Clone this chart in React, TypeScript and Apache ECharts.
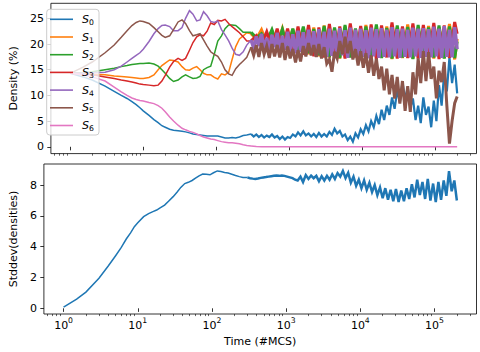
import React, { useEffect, useRef } from 'react';
import * as echarts from 'echarts';

// ---------- data ----------
const T_EARLY = [1, 1.5, 2, 3, 4, 5, 6, 7, 8, 9, 10, 12, 14, 16, 18, 20, 23, 26, 30, 34, 38, 43, 48, 54, 60, 67, 75, 84, 94, 105, 118, 132, 148, 165, 185, 208, 234, 262];

const T_LATE = [300, 326, 354, 384, 417, 453, 492, 534, 580, 630, 684, 742, 806, 875, 950,
  1030, 1120, 1220, 1320, 1430, 1560, 1690, 1840, 2000, 2170, 2350, 2550, 2770, 3010, 3270, 3550, 3850, 4180, 4540, 4930, 5360, 5820, 6320, 6860, 7450, 8090, 8780, 9530,
  10350, 11240, 12200, 13250, 14390, 15620, 16960, 18420, 20000, 21700, 23600, 25600, 27800, 30200, 32800, 35600, 38700, 42000, 45600, 49500, 53800, 58400, 63400, 68800, 74700, 81100, 88100, 95700,
  103900, 112800, 122500, 133000, 144400, 156800, 170300, 184900, 200000];

const T_LATE_SPARSE = [300, 354, 417, 492, 580, 684, 806, 950, 1120, 1320, 1560, 1840, 2170, 2550, 3010, 3550, 4180, 4930, 5820, 6860, 8090, 9530,
  11240, 13250, 15620, 18420, 21700, 25600, 30200, 35600, 42000, 49500, 58400, 68800, 81100, 95700, 112800, 133000, 156800, 184900, 200000];

const T_PINK_LATE = [300, 354, 417, 200000];

const S0_EARLY = [14.3, 13.6, 13.0, 11.8, 10.8, 10.0, 9.4, 8.8, 8.2, 7.6, 7.0, 6.1, 5.3, 4.7, 4.1, 3.8, 3.4, 3.2, 3.1, 3.0, 2.9, 2.7, 2.5, 2.4, 2.3, 2.2, 2.1, 2.1, 2.1, 2.1, 1.9, 1.7, 1.7, 1.8, 1.7, 1.9, 2.2, 2.3];
const S1_EARLY = [14.3, 14.2, 14.1, 14.0, 13.8, 13.7, 13.6, 13.5, 13.4, 13.3, 13.3, 13.5, 14.0, 15.0, 15.8, 16.3, 16.9, 16.8, 16.5, 15.6, 15.0, 14.9, 15.3, 15.6, 15.0, 14.3, 14.0, 14.0, 13.5, 13.2, 14.2, 14.0, 14.5, 17.0, 19.5, 21.0, 21.6, 22.2];
const S2_EARLY = [14.3, 14.4, 14.6, 15.0, 15.3, 15.6, 15.8, 16.0, 16.1, 16.2, 16.2, 16.3, 16.1, 15.7, 15.0, 14.3, 13.3, 12.7, 13.0, 13.6, 14.0, 13.6, 13.3, 13.4, 13.7, 15.0, 15.4, 15.7, 18.0, 20.6, 21.6, 23.0, 23.7, 23.7, 23.6, 23.0, 22.3, 22.3];
const S3_EARLY = [14.3, 14.2, 14.0, 13.6, 13.3, 13.0, 12.8, 12.6, 12.4, 12.2, 12.1, 12.0, 11.9, 12.0, 12.8, 13.9, 15.5, 16.6, 17.2, 16.8, 17.2, 18.8, 20.3, 21.4, 21.8, 21.6, 22.5, 24.1, 23.8, 24.6, 24.5, 24.8, 24.0, 23.4, 22.8, 22.2, 21.4, 20.6];
const S4_EARLY = [14.3, 14.3, 14.4, 14.5, 15.0, 15.7, 16.5, 17.2, 17.8, 18.3, 19.0, 20.5, 22.0, 23.0, 23.6, 23.7, 23.4, 22.6, 22.6, 23.2, 25.0, 26.5, 25.8, 24.5, 24.7, 26.3, 25.5, 24.4, 24.2, 24.5, 22.8, 21.8, 20.6, 19.2, 18.0, 17.8, 18.5, 19.8];
const S5_EARLY = [14.3, 15.5, 16.5, 18.3, 19.8, 21.3, 22.6, 23.6, 24.2, 24.5, 24.4, 24.0, 23.2, 22.4, 21.7, 21.3, 21.6, 22.8, 24.3, 24.7, 24.0, 22.6, 21.6, 21.8, 22.0, 20.8, 19.6, 18.5, 18.0, 17.6, 16.5, 15.0, 14.2, 13.9, 15.2, 16.0, 16.7, 17.4];
const S6_EARLY = [14.3, 14.0, 13.6, 12.8, 11.6, 10.7, 10.0, 9.5, 9.2, 9.0, 8.9, 8.6, 8.4, 8.0, 7.5, 6.8, 5.8, 5.0, 4.2, 3.6, 3.3, 3.0, 2.8, 2.5, 2.2, 1.9, 1.7, 1.5, 1.4, 1.2, 1.0, 0.9, 0.8, 0.8, 0.7, 0.6, 0.4, 0.25];

const S0_LATE = [2.5, 2.0, 2.4, 1.9, 2.3, 1.8, 2.2, 1.9, 2.4, 1.8,
  2.1, 1.5, 2.0, 1.4, 1.9, 1.7, 2.4, 2.0, 2.8, 2.2,
  3.0, 2.2, 2.6, 2.0, 2.5, 1.9, 2.7, 2.0, 2.5, 2.0,
  2.9, 2.3, 3.5, 2.6, 3.1, 2.0, 2.4, 1.3, 2.0, 1.0,
  2.6, 1.8, 3.4, 2.5, 4.2, 3.0, 5.0, 3.8, 6.0, 4.4,
  7.2, 5.2, 8.0, 6.2, 9.6, 7.4, 11.0, 8.6, 12.6, 9.2,
  11.6, 7.6, 9.4, 5.2, 8.0, 4.6, 9.6, 6.2, 7.8, 3.8,
  9.0, 5.0, 12.0, 8.0, 14.6, 10.8, 17.4, 12.4, 16.0, 10.4];
const S1_LATE = [22.0, 21.0, 22.8, 20.2, 22.5, 19.5, 23.0, 19.0, 22.9, 18.5,
  23.1, 18.0, 23.2, 17.6, 23.6, 17.4, 23.0, 17.2, 23.4, 17.5,
  22.8, 17.3, 23.7, 17.2, 22.9, 17.4, 23.4, 17.1, 23.1, 17.3,
  23.8, 17.2, 23.0, 17.5, 23.5, 17.2, 23.2, 17.3, 23.9, 17.0, 21.0];
const S2_LATE = [22.3, 21.2, 22.0, 20.5, 22.8, 19.8, 22.9, 19.2, 23.0, 18.8,
  23.4, 18.2, 22.9, 17.8, 23.5, 17.5, 23.2, 17.3, 23.7, 17.4,
  23.0, 17.2, 23.4, 17.5, 23.8, 17.3, 23.1, 17.2, 23.6, 17.4,
  23.3, 17.1, 23.7, 17.3, 23.2, 17.4, 23.6, 17.2, 23.4, 17.3, 20.5];
const S3_LATE = [20.6, 21.6, 19.8, 22.4, 19.2, 23.0, 18.8, 23.0, 18.2, 23.4,
  17.9, 23.7, 17.6, 23.2, 17.4, 23.9, 17.3, 23.4, 17.2, 24.0,
  17.4, 23.5, 17.3, 23.8, 17.1, 23.6, 17.4, 24.2, 17.2, 23.4,
  17.3, 24.0, 17.2, 23.7, 17.4, 24.1, 17.1, 23.6, 17.3, 24.3, 22.0];
const S4_LATE = [20.8, 19.2, 21.5, 19.6, 22.0, 19.0, 21.2, 18.8, 21.8, 19.4,
  22.2, 18.6, 21.6, 18.9, 22.4, 18.4, 21.9, 18.2, 22.6, 18.5,
  22.3, 17.9, 22.8, 18.1, 22.5, 17.6, 22.9, 17.8, 22.4, 17.5,
  23.0, 17.7, 22.6, 17.4, 23.1, 17.8, 22.7, 17.3, 23.2, 17.6,
  22.8, 17.4, 23.0, 17.5, 22.7, 17.2, 23.2, 17.6, 22.9, 17.3,
  23.1, 17.5, 22.8, 17.4, 23.3, 17.6, 22.9, 17.3, 23.0, 17.5,
  22.8, 17.4, 23.2, 17.6, 23.0, 17.3, 23.1, 17.5, 22.9, 17.4,
  23.4, 17.6, 23.0, 17.3, 23.5, 17.5, 22.8, 17.4, 23.3, 19.0];
const S5_LATE = [19.4, 17.8, 19.8, 17.5, 20.2, 18.0, 19.6, 17.3, 20.0, 17.6,
  19.8, 17.4, 20.2, 16.9, 19.5, 17.2, 19.0, 16.4, 18.8, 16.6,
  19.6, 17.6, 20.2, 17.8, 19.8, 17.5, 20.0, 17.2, 19.4, 16.2,
  17.0, 14.6, 18.5, 17.2, 20.6, 18.0, 21.4, 18.2, 20.6, 17.0,
  19.0, 15.8, 18.6, 15.4, 18.2, 14.4, 17.8, 13.8, 17.2, 13.2,
  15.6, 11.0, 15.2, 10.2, 14.0, 9.4, 13.6, 8.4, 12.8, 7.0,
  11.8, 6.8, 14.5, 10.2, 17.2, 12.4, 18.6, 12.8, 18.4, 13.2,
  15.6, 9.4, 14.8, 12.6, 16.5, 8.0, 0.6, 5.0, 8.5, 9.8];
const S6_LATE = [0.15, 0.05, 0, 0];

const STD_EARLY = [0.08, 0.6, 1.05, 1.95, 2.75, 3.4, 3.95, 4.5, 4.9, 5.3, 5.55, 5.95, 6.15, 6.28, 6.38, 6.52, 6.7, 6.95, 7.25, 7.55, 7.85, 8.1, 8.18, 8.3, 8.45, 8.6, 8.72, 8.7, 8.67, 8.8, 8.92, 8.88, 8.82, 8.78, 8.7, 8.62, 8.55, 8.5];
const STD_LATE = [8.50, 8.45, 8.42, 8.40, 8.43, 8.47, 8.50, 8.52, 8.55, 8.58,
  8.60, 8.62, 8.60, 8.63, 8.60, 8.55, 8.50, 8.45, 8.35, 8.30,
  8.55, 8.20, 8.65, 8.40, 8.62, 8.45, 8.60, 8.25, 8.58, 8.30,
  8.60, 8.35, 8.70, 8.40, 8.78, 8.55, 8.92, 8.45, 8.80, 8.15,
  8.55, 7.95, 8.35, 7.80, 8.30, 7.70, 8.15, 7.55, 8.00, 7.35,
  7.85, 7.15, 7.80, 7.05, 7.70, 6.95, 7.75, 6.90, 7.65, 6.95,
  7.80, 7.10, 8.05, 7.20, 8.35, 7.35, 8.20, 7.10, 8.40, 7.00,
  8.10, 6.90, 8.20, 7.05, 8.30, 7.30, 8.90, 7.60, 8.30, 7.00];

const NAMES = ['S0', 'S1', 'S2', 'S3', 'S4', 'S5', 'S6'];
const COLORS = ['#1f77b4', '#ff7f0e', '#2ca02c', '#d62728', '#9467bd', '#8c564b', '#e377c2'];
const X_MAJOR = [1, 10, 100, 1000, 10000, 100000];
const X_MINOR = [0.6, 0.7, 0.8, 0.9, 2, 3, 4, 5, 6, 7, 8, 9, 20, 30, 40, 50, 60, 70, 80, 90,
  200, 300, 400, 500, 600, 700, 800, 900, 2000, 3000, 4000, 5000, 6000, 7000, 8000, 9000,
  20000, 30000, 40000, 50000, 60000, 70000, 80000, 90000, 200000, 300000];
const Y_TOP_TICKS = [0, 5, 10, 15, 20, 25];
const Y_BOTTOM_TICKS = [0, 2, 4, 6, 8];

const SERIES_EARLY = [S0_EARLY, S1_EARLY, S2_EARLY, S3_EARLY, S4_EARLY, S5_EARLY, S6_EARLY];
const SERIES_LATE = [S0_LATE, S1_LATE, S2_LATE, S3_LATE, S4_LATE, S5_LATE, S6_LATE];
const SERIES_LATE_T = [T_LATE, T_LATE_SPARSE, T_LATE_SPARSE, T_LATE_SPARSE, T_LATE, T_LATE, T_PINK_LATE];
const LATE_WIDTH = [2.2, 3, 3, 3, 3.4, 3, 1.5];

// ---------- helpers ----------
const FONT = 'DejaVu Sans';
const pairs = (ts: number[], vs: number[]) => ts.map((t, i) => [t, vs[i]]);
const X_MIN = 0.543;
const X_MAX = 368000;

const tickStyle = { color: '#000', width: 0.8 };

function xAxes(gridIndex: number, withLabels: boolean) {
  return [
    {
      type: 'log', gridIndex, min: X_MIN, max: X_MAX, position: 'bottom',
      axisLine: { show: false },
      splitLine: { show: false },
      axisTick: { show: true, inside: false, length: 3.6, customValues: X_MAJOR, lineStyle: tickStyle },
      axisLabel: withLabels
        ? {
            show: true, customValues: X_MAJOR, margin: 3.5,
            formatter: (v: number) => `{a|10}{b|${Math.round(Math.log10(v))}}`,
            rich: {
              a: { fontSize: 11, fontFamily: FONT, color: '#000', verticalAlign: 'bottom', lineHeight: 13 },
              b: { fontSize: 7.7, fontFamily: FONT, color: '#000', verticalAlign: 'bottom', lineHeight: 9, padding: [0, 0, 6, 0] },
            },
          }
        : { show: false },
      name: withLabels ? 'Time (#MCS)' : '',
      nameLocation: 'middle',
      nameGap: 22,
      nameTextStyle: { fontSize: 11, fontFamily: FONT, color: '#000' },
    },
    {
      type: 'log', gridIndex, min: X_MIN, max: X_MAX, position: 'bottom',
      axisLine: { show: false },
      splitLine: { show: false },
      axisTick: { show: true, inside: false, length: 2.1, customValues: X_MINOR, lineStyle: { color: '#000', width: 0.6 } },
      axisLabel: { show: false },
    },
  ];
}

function yAxis(gridIndex: number, min: number, max: number, ticks: number[], name: string, gap: number) {
  return {
    type: 'value', gridIndex, min, max,
    axisLine: { show: false },
    splitLine: { show: false },
    axisTick: { show: true, inside: false, length: 3.6, customValues: ticks, lineStyle: tickStyle },
    axisLabel: { show: true, customValues: ticks, margin: 7, fontSize: 11, fontFamily: FONT, color: '#000' },
    name, nameLocation: 'middle', nameGap: gap, nameRotate: 90,
    nameTextStyle: { fontSize: 11, fontFamily: FONT, color: '#000' },
  };
}

function lineSeries(name: string, color: string, width: number, xi: number, yi: number, data: number[][]) {
  return {
    name, type: 'line', xAxisIndex: xi, yAxisIndex: yi,
    symbol: 'none', showSymbol: false, color,
    lineStyle: { color, width, join: 'miter' },
    data,
  };
}

export default function App() {
  const ref = useRef<HTMLDivElement>(null);
  useEffect(() => {
    if (!ref.current) return;
    const chart = echarts.init(ref.current, undefined, { renderer: 'svg' });

    const densitySeries: any[] = [];
    NAMES.forEach((name, k) => {
      const early = pairs(T_EARLY, SERIES_EARLY[k]);
      const late = pairs(SERIES_LATE_T[k], SERIES_LATE[k]);
      densitySeries.push(lineSeries(name, COLORS[k], 1.5, 0, 0, early.concat([late[0]])));
      densitySeries.push(lineSeries(name, COLORS[k], LATE_WIDTH[k], 0, 0, late));
    });

    const stdEarly = pairs(T_EARLY, STD_EARLY);
    const stdLate = pairs(T_LATE, STD_LATE);
    const stdSeries = [
      lineSeries('stddev', COLORS[0], 1.5, 2, 1, stdEarly.concat([stdLate[0]])),
      lineSeries('stddev', COLORS[0], 2.5, 2, 1, stdLate),
    ];

    chart.setOption({
      animation: false,
      backgroundColor: '#fff',
      textStyle: { fontFamily: FONT },
      grid: [
        { left: 41, right: 3.5, top: 3.3, height: 150.3, show: true, borderColor: '#000', borderWidth: 0.8, backgroundColor: 'transparent' },
        { left: 41, right: 3.5, top: 164, height: 150, show: true, borderColor: '#000', borderWidth: 0.8, backgroundColor: 'transparent' },
      ],
      xAxis: [...xAxes(0, false), ...xAxes(1, true)],
      yAxis: [
        yAxis(0, -1.33, 27.93, Y_TOP_TICKS, 'Density (%)', 27),
        yAxis(1, -0.37, 9.37, Y_BOTTOM_TICKS, 'Stddev(densities)', 19),
      ],
      graphic: {
        elements: [
          {
            type: 'rect', z: 50, z2: 10, silent: true,
            shape: { x: 46.7, y: 9.3, width: 52.3, height: 125.7, r: 3 },
            style: { fill: 'rgba(255,255,255,0.8)', stroke: '#cccccc', lineWidth: 1 },
          },
        ],
      },
      legend: {
        data: NAMES,
        orient: 'vertical',
        left: 46.7,
        top: 9.3,
        z: 60,
        icon: 'rect',
        itemWidth: 23,
        itemHeight: 1.6,
        itemGap: 5.2,
        padding: [4.5, 5, 3.5, 3.3],
        backgroundColor: 'transparent',
        borderWidth: 0,
        selectedMode: false,
        formatter: (name: string) => `{s|S}{b|${name.slice(1)}}`,
        textStyle: {
          rich: {
            s: { fontSize: 11, fontFamily: FONT, fontStyle: 'italic', color: '#000', verticalAlign: 'bottom', lineHeight: 14, padding: [0, 0, 1.5, 4] },
            b: { fontSize: 7.7, fontFamily: FONT, color: '#000', verticalAlign: 'bottom', lineHeight: 11 },
          },
        },
      },
      series: [...densitySeries, ...stdSeries],
    });

    return () => chart.dispose();
  }, []);

  return <div ref={ref} style={{ position: 'absolute', left: 0, top: 0, width: 480, height: 352 }} />;
}
